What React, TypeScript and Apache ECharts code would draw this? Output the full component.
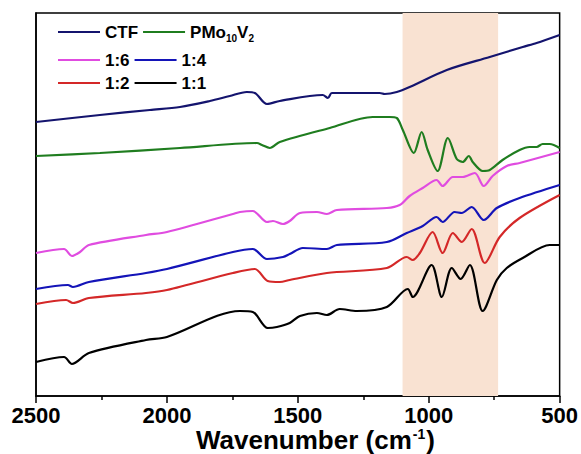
import React, { useEffect, useRef } from "react";
import * as echarts from "echarts";

const FONT_NAME = "Liberation Sans";
const FONT = "'Liberation Sans', Arial, sans-serif";

// Wavenumbers (cm^-1) and transmittance (a.u., offset) for each spectrum
const CTF_WN = [2500, 2256, 2065, 1950, 1836, 1760, 1695, 1664, 1618, 1569, 1405, 1385, 1370, 1187, 1168, 1122, 1073, 931, 767, 641, 588, 500];
const CTF_T = [274, 281, 286, 289, 295, 300, 304, 303, 292, 295, 301, 298, 303, 303, 302, 304, 309, 326, 339, 349, 353, 361];

const PMO_WN = [2500, 2256, 1950, 1656, 1637, 1607, 1569, 1378, 1214, 1149, 1122, 1099, 1057, 1027, 1004, 966, 927, 893, 870, 847, 832, 794, 767, 718, 653, 615, 588, 565, 538, 500];
const PMO_T = [240, 243, 248, 253, 251, 248, 254, 268, 279, 279, 278, 266, 243, 264, 246, 225, 258, 237, 234, 240, 234, 225, 226, 236, 246, 249, 249, 252, 252, 248];

const R16_WN = [2500, 2393, 2363, 2332, 2298, 2080, 2000, 1748, 1721, 1672, 1618, 1595, 1557, 1531, 1492, 1427, 1389, 1351, 1160, 1111, 1073, 1023, 970, 947, 908, 870, 824, 790, 756, 702, 653, 500];
const R16_T = [143, 147, 140, 144, 151, 161, 164, 182, 184, 185, 174, 175, 172, 175, 183, 184, 182, 186, 188, 191, 200, 208, 216, 210, 219, 219, 223, 210, 220, 230, 233, 244];

const R14_WN = [2500, 2378, 2359, 2298, 2080, 2000, 1748, 1672, 1618, 1557, 1531, 1481, 1389, 1351, 1160, 1084, 1023, 970, 947, 901, 874, 836, 790, 740, 653, 500];
const R14_T = [107, 111, 109, 114, 123, 127, 144, 147, 137, 139, 142, 148, 147, 151, 154, 163, 170, 179, 174, 184, 183, 189, 176, 188, 198, 211];

const R12_WN = [2500, 2385, 2359, 2298, 2080, 2000, 1748, 1664, 1615, 1569, 1531, 1389, 1160, 1084, 1061, 1034, 985, 947, 908, 874, 836, 786, 729, 653, 500];
const R12_T = [92, 96, 93, 98, 103, 106, 123, 127, 115, 114, 116, 123, 128, 139, 136, 143, 164, 143, 163, 154, 167, 133, 159, 178, 201];

const R11_WN = [2500, 2393, 2363, 2298, 2080, 2000, 1721, 1672, 1615, 1580, 1531, 1492, 1427, 1389, 1340, 1275, 1160, 1080, 1061, 989, 950, 912, 878, 843, 794, 740, 702, 641, 538, 500];
const R11_T = [34, 39, 32, 43, 56, 59, 85, 84, 68, 69, 73, 80, 83, 81, 87, 85, 89, 107, 99, 131, 99, 128, 117, 131, 85, 116, 128, 138, 151, 151];

const BAND = [1100, 735];
const X_TICKS = [2500, 2000, 1500, 1000, 500];

const SERIES = [
  { name: "CTF", wn: CTF_WN, t: CTF_T, color: "#14146e" },
  { name: "PMo10V2", wn: PMO_WN, t: PMO_T, color: "#1f7d1f" },
  { name: "1:6", wn: R16_WN, t: R16_T, color: "#e04ce0" },
  { name: "1:4", wn: R14_WN, t: R14_T, color: "#1414b8" },
  { name: "1:2", wn: R12_WN, t: R12_T, color: "#d42828" },
  { name: "1:1", wn: R11_WN, t: R11_T, color: "#000000" },
];

const LEGEND_ROWS = [
  ["CTF", "PMo10V2"],
  ["1:6", "1:4"],
  ["1:2", "1:1"],
];
const LEGEND_CY = [32, 60, 83];

let measureCtx: CanvasRenderingContext2D | null = null;
function textWidth(text: string, size: number): number {
  if (!measureCtx) measureCtx = document.createElement("canvas").getContext("2d");
  if (!measureCtx) return text.length * size * 0.6;
  measureCtx.font = `bold ${size}px '${FONT_NAME}'`;
  return measureCtx.measureText(text).width;
}

function txt(text: string, x: number, y: number, size: number) {
  return {
    type: "text",
    x,
    y,
    z: 10,
    silent: true,
    style: {
      text,
      fill: "#000",
      fontSize: size,
      fontWeight: "bold",
      fontFamily: FONT,
      lineHeight: size,
      align: "left",
      verticalAlign: "middle",
      textAlign: "left",
      textVerticalAlign: "middle",
    },
  };
}

function buildLegend(): any[] {
  const els: any[] = [];
  const LW = 42;
  const FS = 17;
  const SUB = 10;
  LEGEND_ROWS.forEach((row, r) => {
    const cy = LEGEND_CY[r];
    let x = 58;
    row.forEach((name) => {
      const s = SERIES.find((q) => q.name === name)!;
      els.push({
        type: "line",
        z: 10,
        silent: true,
        shape: { x1: x, y1: cy, x2: x + LW, y2: cy },
        style: { stroke: s.color, lineWidth: 2 },
      });
      let tx = x + LW + 5;
      if (name === "PMo10V2") {
        const parts: [string, number, number][] = [
          ["PMo", FS, 0],
          ["10", SUB, 6],
          ["V", FS, 0],
          ["2", SUB, 6],
        ];
        parts.forEach(([p, size, dy]) => {
          els.push(txt(p, tx, cy + dy, size));
          tx += textWidth(p, size);
        });
      } else {
        els.push(txt(name, tx, cy, FS));
        tx += textWidth(name, FS);
      }
      x = tx + 5;
    });
  });
  return els;
}

function buildTitle(): any[] {
  const main = "Wavenumber (cm";
  const x0 = 196;
  const cy = 440;
  const w1 = textWidth(main, 26);
  const w2 = textWidth("-1", 14);
  return [
    txt(main, x0, cy, 26),
    txt("-1", x0 + w1 + 1, cy - 6, 14),
    txt(")", x0 + w1 + w2 + 2, cy, 26),
  ];
}

export default function App() {
  const ref = useRef<HTMLDivElement>(null);
  useEffect(() => {
    if (!ref.current) return;
    const chart = echarts.init(ref.current, null, { renderer: "svg" });
    const option: any = {
      animation: false,
      grid: {
        left: 36,
        right: 21,
        top: 13,
        bottom: 58,
        show: true,
        borderColor: "#000",
        borderWidth: 1.5,
        backgroundColor: "transparent",
      },
      xAxis: {
        type: "value",
        inverse: true,
        min: 500,
        max: 2500,
        interval: 500,
        axisLine: { show: true, lineStyle: { color: "#000", width: 1.5 } },
        axisTick: { show: true, length: 7, lineStyle: { color: "#000", width: 1.5 } },
        minorTick: { show: true, splitNumber: 2, length: 4, lineStyle: { color: "#000", width: 1.5 } },
        splitLine: { show: false },
        minorSplitLine: { show: false },
        axisLabel: {
          margin: 8,
          fontSize: 22,
          lineHeight: 22,
          fontWeight: "bold",
          fontFamily: FONT,
          color: "#000",
          formatter: (v: number) => (X_TICKS.includes(v) ? String(v) : ""),
        },
      },
      yAxis: {
        type: "value",
        min: 0,
        max: 383,
        axisLine: { show: true, lineStyle: { color: "#000", width: 1.5 } },
        axisTick: { show: false },
        axisLabel: { show: false },
        splitLine: { show: false },
      },
      graphic: [...buildLegend(), ...buildTitle()],
      series: SERIES.map((s, i) => ({
        name: s.name,
        type: "line",
        data: s.wn.map((w, j) => [w, s.t[j]]),
        symbol: "none",
        smooth: 0.3,
        lineStyle: { color: s.color, width: 2.2 },
        itemStyle: { color: s.color },
        z: 3,
        markArea:
          i === 0
            ? {
                silent: true,
                itemStyle: { color: "#f9e2d2" },
                data: [[{ xAxis: BAND[0] }, { xAxis: BAND[1] }]],
              }
            : undefined,
      })),
    };
    chart.setOption(option);
    return () => chart.dispose();
  }, []);
  return <div ref={ref} style={{ width: 581, height: 454, position: "absolute", left: 0, top: 0 }} />;
}
